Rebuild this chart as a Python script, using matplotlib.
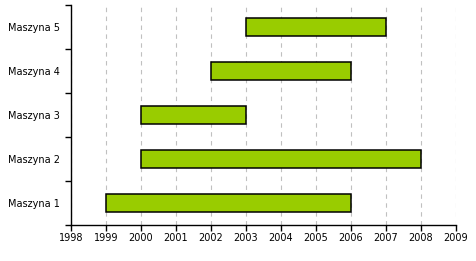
import matplotlib
matplotlib.use("Agg")
import matplotlib.pyplot as plt
import numpy as np

machines = ["Maszyna 1", "Maszyna 2", "Maszyna 3", "Maszyna 4", "Maszyna 5"]
start_year = [1999, 2000, 2000, 2002, 2003]
end_year = [2006, 2008, 2003, 2006, 2007]
years = list(range(1998, 2010))

fig = plt.figure(figsize=(4.76, 2.61), dpi=100)
ax = fig.add_axes([0.149, 0.138, 0.809, 0.843])

y = np.arange(len(machines))
widths = np.array(end_year) - np.array(start_year)
ax.barh(y, widths, left=start_year, height=0.4, color="#99CC00",
        edgecolor="black", linewidth=1.1, zorder=3)

ax.set_xlim(years[0], years[-1])
ax.set_ylim(-0.5, len(machines) - 0.5)
ax.set_xticks(years)
ax.set_xticklabels([str(v) for v in years], fontsize=7)
ax.set_yticks(y)
ax.set_yticklabels(machines, fontsize=7)
ax.set_yticks(np.arange(-0.5, len(machines)), minor=True)
ax.tick_params(axis="y", which="major", length=0, pad=8)
ax.tick_params(axis="y", which="minor", length=4, width=1)
ax.tick_params(axis="x", which="major", length=4, width=1, pad=2)

ax.grid(True, axis="x", linestyle=(0, (4, 4)), linewidth=0.8, color="#c0c0c0", zorder=0)
for side in ["top", "right"]:
    ax.spines[side].set_visible(False)
for side in ["left", "bottom"]:
    ax.spines[side].set_linewidth(1)

fig.savefig("out.png", dpi=100)
